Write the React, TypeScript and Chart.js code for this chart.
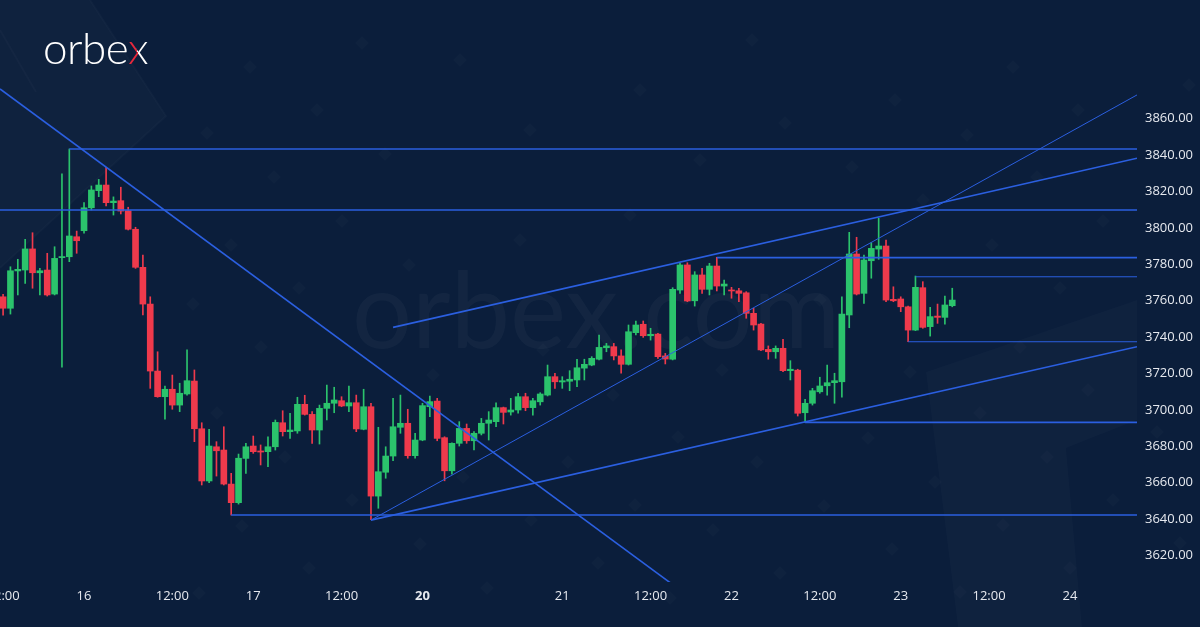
import React, { useEffect, useRef } from "react";
import { Chart, registerables } from "chart.js";

Chart.register(...registerables);

// ---------- data ----------
// hourly candles, bar index of the first candle (bar 0 = start of day "16")
const firstBar = -11;

const opens = [
  3762.1, 3755.8, 3776.3, 3776.8, 3788.4, 3775.3, 3776.8, 3763.6, 3783.6, 3784.1, 3795.1,
  3798.4, 3811.0, 3820.4, 3823.5, 3813.8, 3814.9, 3809.4, 3799.2, 3778.3, 3758.1, 3721.3,
  3707.2, 3711.3, 3702.6, 3708.7, 3715.8, 3689.6, 3660.9, 3679.7, 3677.9, 3659.2, 3649.0,
  3673.3, 3680.1, 3677.4, 3677.0, 3679.7, 3692.9, 3688.0, 3688.4, 3703.0, 3697.5, 3688.9,
  3700.8, 3703.6, 3705.0, 3702.1, 3703.9, 3689.3, 3701.7, 3652.6, 3665.7, 3674.6, 3690.4,
  3692.6, 3674.8, 3683.4, 3701.7, 3704.8, 3684.7, 3666.5, 3681.6, 3689.8, 3683.0, 3687.1,
  3692.6, 3693.5, 3701.2, 3698.8, 3699.9, 3707.2, 3701.2, 3704.4, 3708.1, 3718.2, 3715.3,
  3715.7, 3716.4, 3722.9, 3724.6, 3727.8, 3734.1, 3734.7, 3729.6, 3725.0, 3742.4, 3747.0,
  3740.7, 3741.6, 3729.6, 3727.8, 3765.8, 3779.6, 3759.9, 3774.1, 3766.2, 3779.0, 3768.0,
  3765.8, 3765.4, 3764.3, 3753.0, 3747.1, 3733.2, 3731.9, 3733.8, 3721.5, 3721.8, 3698.4,
  3703.6, 3709.9, 3713.2, 3714.9, 3715.4, 3752.1, 3785.6, 3764.0, 3781.9, 3788.3, 3790.0,
  3760.7, 3760.9, 3756.6, 3743.8, 3767.1, 3745.7, 3751.5, 3750.8, 3757.2,
];
const highs = [
  3763.5, 3778.6, 3782.7, 3793.7, 3797.3, 3777.7, 3786.0, 3789.6, 3829.6, 3843.3, 3798.2,
  3813.8, 3823.0, 3826.6, 3833.2, 3817.0, 3822.3, 3811.3, 3800.3, 3785.0, 3762.1, 3731.9,
  3713.1, 3719.1, 3714.6, 3732.9, 3721.9, 3692.9, 3689.3, 3682.5, 3690.7, 3665.1, 3675.7,
  3681.6, 3685.6, 3680.7, 3685.2, 3694.4, 3699.5, 3698.1, 3706.9, 3708.0, 3699.0, 3702.6,
  3713.6, 3712.4, 3707.2, 3713.1, 3708.1, 3711.3, 3703.6, 3690.4, 3679.7, 3706.3, 3708.1,
  3700.3, 3687.1, 3703.6, 3707.6, 3706.3, 3685.2, 3681.9, 3693.5, 3692.2, 3688.0, 3695.3,
  3699.0, 3703.9, 3701.5, 3706.3, 3709.1, 3709.1, 3706.3, 3709.4, 3724.6, 3720.1, 3718.2,
  3721.5, 3727.8, 3727.8, 3729.2, 3741.1, 3736.5, 3736.5, 3732.9, 3746.6, 3748.8, 3748.8,
  3744.8, 3742.0, 3731.0, 3767.1, 3780.5, 3780.8, 3775.9, 3777.7, 3780.5, 3783.8, 3771.3,
  3767.3, 3766.8, 3764.9, 3755.8, 3747.5, 3735.1, 3735.1, 3738.7, 3727.0, 3722.3, 3705.8,
  3711.8, 3717.9, 3724.6, 3720.1, 3762.1, 3797.5, 3794.8, 3785.0, 3791.8, 3805.2, 3793.3,
  3767.6, 3762.1, 3757.0, 3773.5, 3770.4, 3756.3, 3758.1, 3762.5, 3766.8,
];
const lows = [
  3752.0, 3752.6, 3763.1, 3769.5, 3766.8, 3763.1, 3762.5, 3763.1, 3723.4, 3781.4, 3786.0,
  3797.0, 3809.8, 3817.1, 3812.0, 3807.0, 3807.6, 3798.8, 3777.7, 3752.1, 3711.8, 3706.9,
  3694.8, 3700.3, 3699.0, 3708.1, 3682.5, 3658.7, 3660.0, 3663.6, 3658.7, 3642.2, 3648.2,
  3665.1, 3676.1, 3669.7, 3668.7, 3677.9, 3685.6, 3684.3, 3687.1, 3697.1, 3681.6, 3681.2,
  3694.4, 3698.4, 3701.7, 3699.0, 3688.0, 3689.0, 3639.6, 3645.9, 3662.4, 3672.0, 3687.1,
  3673.4, 3673.4, 3683.0, 3696.2, 3683.0, 3661.0, 3664.7, 3680.1, 3681.6, 3677.9, 3686.2,
  3683.4, 3690.7, 3692.2, 3697.1, 3698.1, 3699.5, 3697.1, 3702.6, 3707.6, 3711.8, 3711.8,
  3710.5, 3712.7, 3716.4, 3724.2, 3727.4, 3731.9, 3727.4, 3720.1, 3724.6, 3741.1, 3739.8,
  3738.3, 3728.3, 3725.2, 3727.4, 3764.0, 3759.4, 3757.0, 3764.0, 3763.1, 3765.3, 3763.1,
  3761.3, 3759.4, 3750.3, 3743.8, 3732.5, 3727.8, 3728.3, 3720.9, 3716.4, 3696.6, 3693.1,
  3702.6, 3709.1, 3708.1, 3703.6, 3706.9, 3745.1, 3763.1, 3758.5, 3772.3, 3782.7, 3759.4,
  3759.4, 3753.9, 3737.4, 3743.5, 3744.8, 3740.5, 3747.5, 3747.1, 3756.6,
];
const closes = [
  3755.8, 3776.4, 3777.2, 3788.4, 3775.3, 3776.4, 3763.1, 3783.2, 3784.2, 3795.5, 3792.9,
  3811.0, 3820.8, 3823.5, 3813.8, 3814.7, 3809.2, 3799.2, 3778.3, 3758.1, 3721.3, 3707.2,
  3711.3, 3702.6, 3709.1, 3716.0, 3689.6, 3660.9, 3680.1, 3677.5, 3659.2, 3649.0, 3673.4,
  3679.7, 3677.0, 3676.8, 3679.7, 3693.1, 3688.0, 3688.9, 3703.0, 3697.5, 3688.9, 3700.8,
  3703.6, 3705.4, 3702.1, 3703.9, 3689.5, 3701.7, 3652.6, 3666.0, 3674.6, 3690.7, 3692.6,
  3674.8, 3683.4, 3702.3, 3704.5, 3684.3, 3666.5, 3681.6, 3689.8, 3683.0, 3687.1, 3692.6,
  3694.4, 3701.2, 3698.6, 3699.9, 3707.2, 3701.2, 3705.0, 3708.7, 3718.2, 3715.4, 3716.0,
  3716.8, 3723.1, 3725.0, 3728.3, 3734.3, 3735.1, 3729.6, 3725.0, 3742.9, 3746.6, 3740.7,
  3741.5, 3729.2, 3727.9, 3766.2, 3779.6, 3759.8, 3774.1, 3766.2, 3779.0, 3768.0, 3769.1,
  3765.3, 3764.0, 3753.0, 3746.6, 3732.9, 3731.9, 3733.8, 3721.5, 3722.3, 3698.1, 3703.6,
  3710.5, 3713.1, 3714.9, 3716.0, 3752.6, 3785.6, 3763.6, 3782.3, 3788.7, 3790.0, 3760.3,
  3759.9, 3756.6, 3743.8, 3767.3, 3745.3, 3751.2, 3750.8, 3757.6, 3760.3,
];

// time axis labels (bar index -> label)
const tickBars = [-11, 0, 12, 23, 35, 46, 65, 77, 88, 100, 111, 123, 134];
const tickLabels = ["12:00", "16", "12:00", "17", "12:00", "20", "21", "12:00", "22", "12:00", "23", "12:00", "24"];
const boldTickBars = [46];

// price axis
const priceTicks = [3620, 3640, 3660, 3680, 3700, 3720, 3740, 3760, 3780, 3800, 3820, 3840, 3860];

// visible ranges
const xRange = [-11.42, 143.11];
const yRange = [3605.4, 3925.16];

// horizontal levels: price, first bar
const levelPrices = [3843.3, 3809.8, 3642.2, 3783.6, 3693.1, 3773.1, 3737.4];
const levelStartBars = [-2, -11.42, 20, 86, 98, 113, 112];
const levelThin = [false, false, false, false, false, true, true];

// trend lines: [bar, price] -> [bar, price]
const trendStart = [
  [-11.42, 3876.3],
  [42, 3745.3],
  [39, 3639.4],
  [39, 3639.4],
];
const trendEnd = [
  [79.9, 3604.3],
  [143.11, 3838.2],
  [143.11, 3873.0],
  [143.11, 3734.7],
];
const trendThin = [false, false, true, false];

// ---------- style ----------
const BG = "#0b1e3b";
const GREEN = "#2bc36c";
const RED = "#ef3a4c";
const LINE = "#2b5fe0";
const TICK = "#e6e9ef";
const FONT = "'Open Sans', 'Noto Sans', sans-serif";

const diamonds = [
  [362, 43], [250, 67], [317, 110], [207, 133], [274, 177], [385, 154], [342, 221], [231, 245],
  [299, 288], [193, 304], [261, 347], [217, 413], [285, 457], [242, 526], [352, 500], [309, 568],
  [199, 593], [678, 437], [568, 462], [635, 505], [531, 520], [757, 462], [713, 530], [598, 563],
  [420, 544], [487, 588], [463, 477], [780, 573], [670, 598], [409, 265], [520, 240], [630, 215],
  [433, 375], [543, 350], [722, 370], [613, 395], [1103, 221], [992, 245], [1060, 288], [1020, 347],
  [910, 372], [1088, 390], [980, 413], [868, 438], [935, 482], [1047, 457], [824, 506], [1003, 525],
  [1113, 500], [892, 549], [1070, 568], [960, 592], [1013, 67], [895, 100], [785, 123], [967, 135],
  [1078, 110], [852, 167], [1037, 177], [923, 200], [1157, 432], [1180, 543], [1189, 85], [752, 40],
  [640, 90], [530, 130], [460, 60], [820, 300], [700, 160],
];

const decoPlugin = {
  id: "deco",
  beforeDraw(chart: any) {
    const ctx = chart.ctx as CanvasRenderingContext2D;
    ctx.save();
    // top-left chevron
    ctx.fillStyle = "rgba(255,255,255,0.018)";
    ctx.beginPath();
    ctx.moveTo(0, 0);
    ctx.lineTo(90, 0);
    ctx.lineTo(166, 116);
    ctx.lineTo(0, 268);
    ctx.closePath();
    ctx.fill();
    ctx.strokeStyle = "rgba(255,255,255,0.025)";
    ctx.lineWidth = 2;
    ctx.beginPath();
    ctx.moveTo(90, 0);
    ctx.lineTo(166, 116);
    ctx.lineTo(0, 268);
    ctx.stroke();
    ctx.beginPath();
    ctx.moveTo(0, 30);
    ctx.lineTo(36, 92);
    ctx.stroke();
    // bottom-right shape
    ctx.fillStyle = "rgba(255,255,255,0.018)";
    ctx.beginPath();
    ctx.moveTo(926, 372);
    ctx.lineTo(1137, 300);
    ctx.lineTo(1137, 420);
    ctx.lineTo(1066, 448);
    ctx.lineTo(1082, 627);
    ctx.lineTo(958, 627);
    ctx.closePath();
    ctx.fill();
    // diamonds
    ctx.fillStyle = "rgba(255,255,255,0.018)";
    diamonds.forEach(([x, y]) => {
      ctx.beginPath();
      ctx.moveTo(x, y - 7);
      ctx.lineTo(x + 7, y);
      ctx.lineTo(x, y + 7);
      ctx.lineTo(x - 7, y);
      ctx.closePath();
      ctx.fill();
    });
    ctx.restore();
  },
};

export default function App() {
  const ref = useRef<HTMLCanvasElement>(null);

  useEffect(() => {
    const canvas = ref.current;
    if (!canvas) return;
    const colors = opens.map((o, k) => (closes[k] >= o ? GREEN : RED));
    const bodies = opens.map((o, k) => ({ x: firstBar + k, y: [o, closes[k]] }));
    const wicks = opens.map((_, k) => ({ x: firstBar + k, y: [lows[k], highs[k]] }));

    const lineSets: any[] = [];
    levelPrices.forEach((p, k) => {
      lineSets.push({
        type: "line",
        data: [
          { x: levelStartBars[k], y: p },
          { x: xRange[1], y: p },
        ],
        borderColor: LINE,
        borderWidth: levelThin[k] ? 1 : 1.6,
        pointRadius: 0,
        fill: false,
        tension: 0,
      });
    });
    trendStart.forEach((s, k) => {
      lineSets.push({
        type: "line",
        data: [
          { x: s[0], y: s[1] },
          { x: trendEnd[k][0], y: trendEnd[k][1] },
        ],
        borderColor: LINE,
        borderWidth: trendThin[k] ? 1 : 1.6,
        pointRadius: 0,
        fill: false,
        tension: 0,
      });
    });

    const chart = new Chart(canvas, {
      type: "bar",
      data: {
        datasets: [
          ...lineSets,
          {
            type: "bar",
            data: bodies,
            backgroundColor: colors,
            barThickness: 6,
            grouped: false,
            minBarLength: 1,
            borderWidth: 0,
          },
          {
            type: "bar",
            data: wicks,
            backgroundColor: colors,
            barThickness: 1,
            grouped: false,
            borderWidth: 0,
          },
        ],
      } as any,
      options: {
        responsive: false,
        animation: false,
        devicePixelRatio: 1,
        events: [],
        layout: { padding: 0 },
        plugins: { legend: { display: false }, tooltip: { enabled: false } },
        scales: {
          x: {
            type: "linear",
            min: xRange[0],
            max: xRange[1],
            offset: false,
            grid: { display: false, drawTicks: false },
            border: { display: false },
            afterBuildTicks: (a: any) => {
              a.ticks = tickBars.map((v) => ({ value: v }));
            },
            afterFit: (a: any) => {
              a.height = 45;
              a.paddingLeft = 0;
              a.paddingRight = 0;
            },
            ticks: {
              autoSkip: false,
              maxRotation: 0,
              minRotation: 0,
              padding: 6,
              color: TICK,
              font: (c: any) => ({
                family: FONT,
                size: 13,
                weight: c.tick && boldTickBars.includes(c.tick.value) ? "bold" : "normal",
              }),
              callback: (v: any) => {
                const i = tickBars.indexOf(Number(v));
                return i >= 0 ? tickLabels[i] : "";
              },
            },
          },
          y: {
            type: "linear",
            position: "right",
            min: yRange[0],
            max: yRange[1],
            grid: { display: false, drawTicks: false },
            border: { display: false },
            afterBuildTicks: (a: any) => {
              a.ticks = priceTicks.map((v) => ({ value: v }));
            },
            afterFit: (a: any) => {
              a.width = 63;
              a.paddingTop = 0;
              a.paddingBottom = 0;
            },
            ticks: {
              padding: 8,
              color: TICK,
              font: { family: FONT, size: 13 },
              callback: (v: any) => Number(v).toFixed(2),
            },
          },
        },
      } as any,
      plugins: [decoPlugin],
    });
    return () => chart.destroy();
  }, []);

  return (
    <div
      style={{
        position: "fixed",
        left: 0,
        top: 0,
        width: 1200,
        height: 627,
        background: BG,
        overflow: "hidden",
      }}
    >
      <div
        style={{
          position: "absolute",
          left: 352,
          top: 254,
          fontFamily: "Lato, sans-serif",
          fontSize: 106,
          lineHeight: "106px",
          color: "rgba(255,255,255,0.035)",
          whiteSpace: "nowrap",
        }}
      >
        orbex.com
      </div>
      <canvas
        ref={ref}
        width={1200}
        height={627}
        style={{ position: "absolute", left: 0, top: 0, width: 1200, height: 627 }}
      />
      <div
        style={{
          position: "absolute",
          left: 43,
          top: 25,
          fontFamily: "Lato, sans-serif",
          fontSize: 44,
          fontWeight: 300,
          lineHeight: "44px",
          color: "#ffffff",
          whiteSpace: "nowrap",
          letterSpacing: "-0.5px",
        }}
      >
        orbe
        <span
          style={{
            background: "linear-gradient(to top right, #e8283c 0%, #e8283c 44%, #ffffff 44%)",
            WebkitBackgroundClip: "text",
            backgroundClip: "text",
            color: "transparent",
            WebkitTextFillColor: "transparent",
          }}
        >
          x
        </span>
      </div>
    </div>
  );
}
